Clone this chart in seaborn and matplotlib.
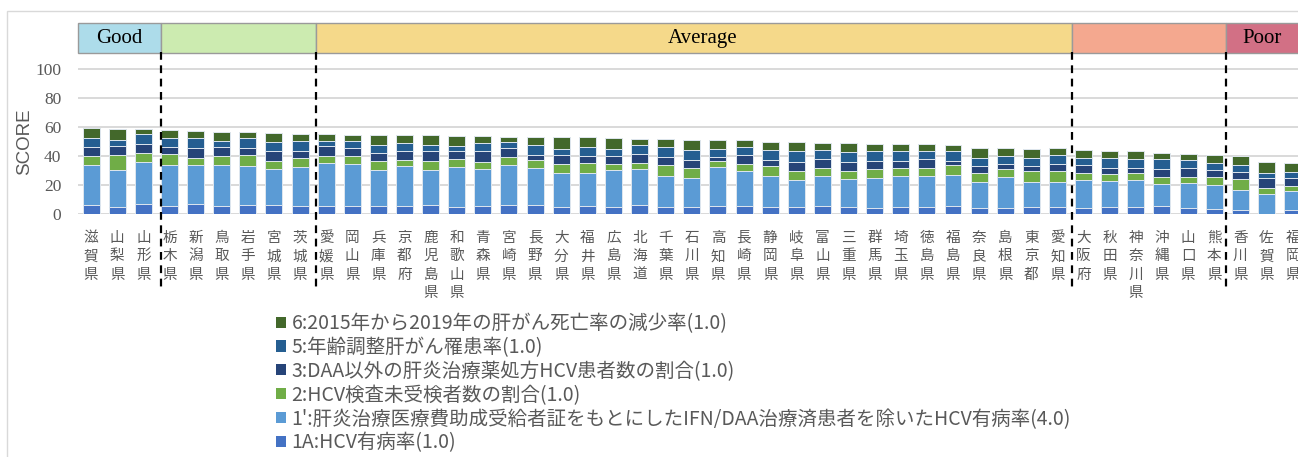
import numpy as np
import pandas as pd
import seaborn as sns
import matplotlib.pyplot as plt
from matplotlib.patches import Rectangle, Patch

# ---------------- data ----------------
prefs = ["滋賀県", "山梨県", "山形県", "栃木県", "新潟県", "鳥取県", "岩手県", "宮城県", "茨城県",
         "愛媛県", "岡山県", "兵庫県", "京都府", "鹿児島県", "和歌山県", "青森県", "宮崎県", "長野県",
         "大分県", "福井県", "広島県", "北海道", "千葉県", "石川県", "高知県", "長崎県", "静岡県",
         "岐阜県", "富山県", "三重県", "群馬県", "埼玉県", "徳島県", "福島県", "奈良県", "島根県",
         "東京都", "愛知県", "大阪府", "秋田県", "神奈川県", "沖縄県", "山口県", "熊本県", "香川県",
         "佐賀県", "福岡県"]

s1A = [6.4, 5.3, 7.1, 5.7, 7.1, 5.7, 6.4, 6.4, 5.7,
       6.0, 6.0, 6.0, 6.0, 6.2, 5.3, 6.0, 6.4, 6.4, 5.0,
       5.5, 5.0, 6.2, 5.0, 5.0, 5.5, 5.7, 5.0, 5.0,
       5.7, 5.0, 4.4, 5.0, 5.0, 5.5, 4.4, 4.4, 5.0,
       5.0, 4.4, 4.8, 5.0, 5.5, 4.4, 3.9, 3.2, 0.3, 3.2]
s1p = [27.7, 25.4, 29.1, 28.4, 26.8, 28.2, 26.6, 25.0, 27.1,
       29.5, 28.4, 24.2, 27.4, 24.0, 27.5, 24.9, 27.7, 25.4, 23.6,
       23.1, 25.5, 25.0, 21.3, 20.2, 27.3, 24.3, 21.1, 18.4,
       20.4, 19.5, 20.6, 21.1, 21.6, 21.8, 18.1, 21.5, 17.5,
       17.5, 19.4, 17.9, 18.4, 15.3, 17.4, 16.5, 13.8, 13.7, 12.6]
s2 = [6.0, 9.8, 6.0, 7.1, 4.8, 6.0, 7.5, 5.0, 5.9,
      4.6, 5.5, 6.5, 3.9, 6.5, 5.0, 5.0, 5.3, 5.5, 6.2,
      6.7, 4.3, 4.3, 7.6, 6.4, 4.1, 4.6, 6.9, 6.2,
      6.0, 5.1, 6.4, 5.5, 5.0, 6.6, 5.7, 5.3, 7.3,
      7.1, 4.4, 5.2, 4.8, 5.1, 3.9, 5.0, 7.1, 4.3, 3.7]
s3 = [6.4, 6.5, 5.9, 5.1, 6.7, 6.4, 5.3, 7.4, 5.1,
      6.9, 5.9, 5.7, 6.5, 6.6, 5.5, 7.6, 6.2, 3.7, 5.7,
      5.0, 5.3, 6.2, 5.7, 5.7, 2.7, 5.9, 4.6, 6.4,
      6.0, 6.6, 5.5, 5.3, 6.7, 3.0, 5.2, 3.6, 3.2,
      4.8, 5.9, 4.2, 3.9, 5.3, 6.4, 5.3, 5.2, 6.7, 5.5]
s5 = [6.2, 4.1, 7.3, 6.4, 7.3, 4.1, 6.7, 6.2, 6.8,
      3.6, 4.4, 5.5, 5.5, 4.1, 3.4, 5.8, 4.4, 6.6, 4.6,
      6.2, 5.0, 6.2, 6.7, 6.7, 5.0, 5.5, 6.6, 7.5,
      6.4, 6.6, 6.6, 6.4, 5.2, 6.4, 5.5, 5.1, 6.0,
      6.1, 4.4, 6.9, 6.2, 7.1, 5.5, 4.8, 4.8, 3.6, 4.1]
s6 = [6.4, 7.5, 3.0, 5.0, 4.6, 6.4, 3.9, 6.1, 4.8,
      4.6, 4.6, 6.6, 5.2, 6.9, 7.4, 4.5, 3.4, 5.8, 7.8,
      6.4, 7.1, 4.1, 5.2, 7.1, 6.5, 4.9, 5.7, 6.2,
      4.8, 6.0, 4.8, 5.0, 4.8, 4.6, 6.7, 5.5, 6.1,
      4.9, 5.5, 4.5, 5.2, 3.9, 3.6, 5.0, 6.0, 7.1, 6.0]

series_names = ["1A:HCV有病率(1.0)",
                "1':肝炎治療医療費助成受給者証をもとにしたIFN/DAA治療済患者を除いたHCV有病率(4.0)",
                "2:HCV検査未受検者数の割合(1.0)",
                "3:DAA以外の肝炎治療薬処方HCV患者数の割合(1.0)",
                "5:年齢調整肝がん罹患率(1.0)",
                "6:2015年から2019年の肝がん死亡率の減少率(1.0)"]
series_vals = [s1A, s1p, s2, s3, s5, s6]
series_colors = ["#4472C4", "#5B9BD5", "#70AD47", "#264478", "#255E91", "#43682B"]

band_names = ["Good", "", "Average", "", "Poor"]
band_colors = ["#ADDCEA", "#CCEBB0", "#F5D98A", "#F4A88F", "#D27085"]
band_edges = [-0.5, 2.68, 8.60, 37.56, 43.45, 47.5]
band_text_x = [1.09, 5.64, 23.4, 40.5, 44.83]
yticks = [0, 20, 40, 60, 80, 100]

# ---------------- figure ----------------
sns.set_style("white")
plt.rcParams['font.family'] = ['Noto Sans CJK JP', 'DejaVu Sans']

W, H = 1298, 457
fig = plt.figure(figsize=(W / 100, H / 100), dpi=100)
y0px = 214.3
ppu = 1.453
ymax = 132
ax = fig.add_axes([78 / W, (H - y0px) / H, (1305.6 - 78) / W, ymax * ppu / H])

df = pd.DataFrame({"pref": prefs})
cum = np.cumsum(np.array(series_vals), axis=0)
for k in range(5, -1, -1):
    df["v"] = cum[k]
    sns.barplot(data=df, x="pref", y="v", color=series_colors[k], width=0.65,
                saturation=1, edgecolor="#dfe7ef", linewidth=0.7,
                errorbar=None, ax=ax, zorder=2)

ax.set_xlim(-0.5, 46.5)
ax.set_ylim(0, ymax)
for sp in ax.spines.values():
    sp.set_visible(False)

ax.set_yticks(yticks)
ax.set_yticklabels([str(t) for t in yticks], family="Liberation Serif",
                   fontsize=12.5, color="#595959")
ax.yaxis.grid(True, color="#d9d9d9", lw=1.4, zorder=0)
ax.xaxis.grid(False)
ax.set_axisbelow(True)
ax.tick_params(axis="y", length=0, pad=12)

ax.set_xticks(range(len(prefs)))
ax.set_xticklabels(["\n".join(p) for p in prefs], fontsize=10.5, color="#595959",
                   linespacing=1.4, va="top")
ax.tick_params(axis="x", length=0, pad=12)

ax.set_xlabel("")
ax.set_ylabel("SCORE", family="Liberation Sans", fontsize=13.5, color="#595959")
ax.yaxis.set_label_coords(-0.0367, 0.377)

# header bands
for i in range(5):
    x0, x1 = band_edges[i], band_edges[i + 1]
    ax.add_patch(Rectangle((x0, 111), x1 - x0, 20.7, facecolor=band_colors[i],
                           edgecolor="#9a9a9a", lw=1, clip_on=False, zorder=3))
    if band_names[i]:
        ax.text(band_text_x[i], 121.3, band_names[i], family="Liberation Serif",
                fontsize=15, color="black", ha="center", va="center", zorder=4)

# dashed separators
for xd in band_edges[1:5]:
    ax.plot([xd, xd], [112, -52], color="black", lw=1.6,
            linestyle=(0, (3.5, 2.5)), clip_on=False, zorder=5)

# outer chart border
fig.add_artist(Rectangle((7 / W, -0.1), 2, 1 - 11 / H + 0.1, transform=fig.transFigure,
                         fill=False, edgecolor="#d9d9d9", lw=1))

# legend
handles = [Patch(facecolor=series_colors[k], edgecolor="none") for k in range(5, -1, -1)]
labels = [series_names[k] for k in range(5, -1, -1)]
fig.legend(handles, labels, loc="upper left", bbox_to_anchor=(276 / W, 1 - 313 / H),
           frameon=False, fontsize=14, labelcolor="#595959", handlelength=0.5,
           handleheight=0.5, handletextpad=0.3, labelspacing=0.15, borderpad=0,
           borderaxespad=0)

fig.savefig("out.png", dpi=100)
